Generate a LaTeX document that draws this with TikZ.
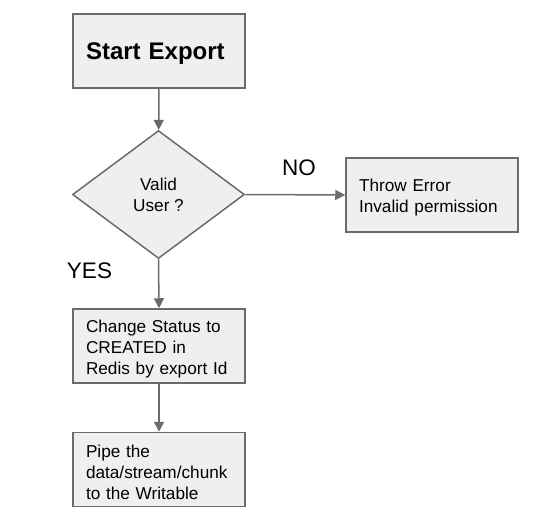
\documentclass[tikz,border=0pt]{standalone}
\usepackage{fontspec}
\setmainfont{Liberation Sans}
\usepackage{xcolor}
\usetikzlibrary{shapes.geometric,arrows.meta}

\definecolor{boxfill}{HTML}{EFEFEF}
\definecolor{boxline}{HTML}{6B6B6B}

\tikzset{
  stepbox/.style={draw=boxline, fill=boxfill, line width=1.5pt, rectangle,
    minimum width=172pt, minimum height=74pt, text width=146pt, align=left,
    inner xsep=13pt, execute at begin node={\rule{0pt}{18pt}},
    font=\fontsize{17.2}{21}\selectfont},
  decide/.style={draw=boxline, fill=boxfill, line width=1.5pt, diamond,
    minimum width=172pt, minimum height=128pt, inner sep=0pt, align=center,
    font=\fontsize{17.2}{21}\selectfont},
  flow/.style={draw=boxline, line width=1.5pt, -{Triangle[length=10pt,width=10pt]}},
  answer/.style={inner sep=0pt, font=\fontsize{22.5}{26}\selectfont},
}

\begin{document}
\begin{tikzpicture}[x=1pt,y=-1pt]
\useasboundingbox (0,0) rectangle (541,532);

% boxes
\node[stepbox, execute at begin node={\rule{0pt}{22pt}}, font=\fontsize{24}{28}\selectfont\bfseries] (start) at (159,51) {Start Export};
\node[decide] (valid) at (158.5,194.5) {Valid\\User ?};
\node[stepbox] (error) at (432,195) {Throw Error\\Invalid permission};
\node[stepbox] (status) at (159,346) {Change Status to\\CREATED in\\Redis by export Id};
\node[stepbox] (pipe) at (159,469.5) {Pipe the\\data/stream/chunk\\to the Writable};

% answers
\node[answer] (no) at (299,168) {NO};
\node[answer] (yes) at (89.5,271) {YES};

% connectors
\draw[flow] (start) -- (valid);
\draw[flow] (valid.east) -- (error.west);
\draw[flow] (valid.south) -- (status.north);
\draw[flow] (status) -- (pipe);
\end{tikzpicture}
\end{document}
